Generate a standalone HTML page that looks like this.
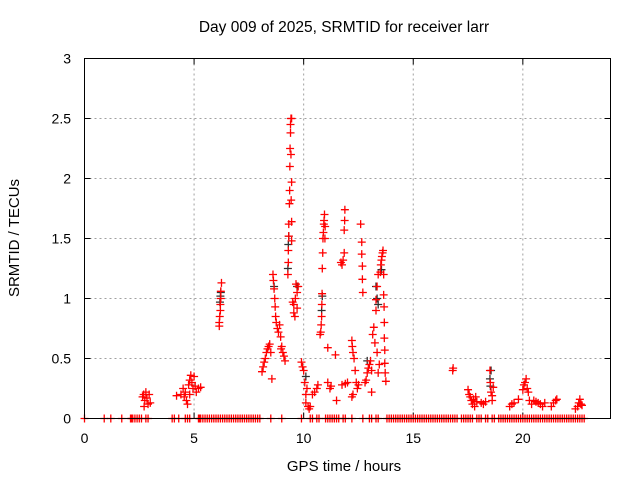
<!DOCTYPE html>
<html><head><meta charset="utf-8"><style>
body{margin:0;background:#fff}
svg{display:block;font-family:"Liberation Sans",sans-serif}
</style></head><body>
<svg id="chart" width="640" height="480" viewBox="0 0 640 480" xmlns="http://www.w3.org/2000/svg">
<rect width="640" height="480" fill="#fff"/>
<text x="344" y="32" font-size="15.5" text-anchor="middle">Day 009 of 2025, SRMTID for receiver larr</text>
<text x="344" y="471" font-size="15" text-anchor="middle">GPS time / hours</text>
<text transform="translate(19,238) rotate(-90)" font-size="15" text-anchor="middle">SRMTID / TECUs</text>
<g id="grid"></g><g id="ticks"></g><g id="marks"></g>
<rect x="84.5" y="58.5" width="526" height="360" fill="none" stroke="#000" stroke-width="1"/>
</svg>
<script>
const xTicks=[0,5,10,15,20];
const yTicks=[0,0.5,1,1.5,2,2.5,3];
const yTickLabels=["0","0.5","1","1.5","2","2.5","3"];
const redTimes=[2.65,2.7,2.75,2.8,2.85,2.9,2.95,3.0,2.72,
4.2,4.4,4.5,4.6,4.65,4.7,4.75,4.8,4.85,4.9,4.95,5.0,5.05,5.1,5.2,5.3,4.55,4.8,
6.15,6.15,6.17,6.2,6.2,6.22,6.22,6.25,
8.1,8.15,8.2,8.25,8.3,8.35,8.4,8.45,8.5,8.55,8.6,8.62,8.65,8.68,8.7,8.72,8.75,8.8,8.85,8.9,8.95,9.0,9.05,9.1,9.15,8.97,
9.28,9.3,9.3,9.32,9.32,9.35,9.36,9.37,9.38,9.4,9.4,9.42,9.45,9.42,9.45,9.43,9.45,9.45,
9.5,9.55,9.55,9.6,9.62,9.65,9.7,9.7,9.75,
9.9,9.95,10.0,10.05,10.1,10.1,10.15,10.2,10.25,10.3,10.4,10.5,10.6,10.65,
10.75,10.78,10.8,10.82,10.83,10.84,10.85,10.87,10.88,10.9,10.92,10.95,10.93,10.97,10.98,
11.1,11.1,11.2,11.25,11.45,11.5,
11.7,11.75,11.8,11.85,11.85,11.87,11.88,11.75,11.9,12.0,
12.2,12.22,12.25,12.3,12.25,12.2,12.35,12.4,12.45,12.5,
12.6,12.65,12.65,12.68,12.68,12.7,
12.8,12.85,12.9,12.95,13.0,13.05,13.1,13.1,13.15,13.2,13.25,13.3,13.3,13.35,13.35,13.4,13.4,13.45,
13.5,13.52,13.55,13.57,13.6,13.62,13.65,13.65,13.67,13.68,13.68,13.7,13.7,13.72,13.75,
16.8,16.82,
17.5,17.55,17.6,17.65,17.7,17.75,17.8,17.85,17.9,18.1,18.2,18.3,
18.5,18.52,18.55,18.6,18.65,18.6,
19.4,19.5,19.6,19.8,
20.0,20.05,20.1,20.15,20.2,20.25,20.3,
20.4,20.5,20.6,20.7,20.8,20.9,21.0,
21.3,21.4,21.5,21.55,
22.4,22.5,22.55,22.6,22.65,22.7];
const redValues=[0.18,0.2,0.15,0.22,0.17,0.12,0.2,0.13,0.1,
0.19,0.2,0.25,0.22,0.15,0.12,0.28,0.32,0.36,0.3,0.25,0.35,0.27,0.22,0.25,0.26,0.18,0.2,
0.77,0.8,0.85,0.9,0.95,1.0,1.06,1.13,
0.39,0.43,0.47,0.5,0.55,0.58,0.6,0.62,0.55,0.33,1.2,1.15,1.08,1.0,0.93,0.85,0.8,0.75,0.72,0.78,0.68,0.6,0.55,0.52,0.48,0.58,
1.2,1.3,1.4,1.52,1.62,1.79,1.9,2.1,2.25,2.38,2.45,2.5,2.5,2.2,1.97,1.82,1.64,1.48,
0.97,0.95,0.88,0.85,1.0,1.12,1.05,0.92,1.1,
0.47,0.43,0.4,0.3,0.2,0.13,0.25,0.1,0.08,0.1,0.2,0.22,0.25,0.28,
0.7,0.72,0.78,0.85,0.95,1.04,1.25,1.38,1.5,1.55,1.62,1.7,1.65,1.5,1.6,
0.59,0.3,0.25,0.27,0.53,0.15,
1.3,1.28,1.32,1.38,1.57,1.65,1.74,0.28,0.29,0.3,
0.65,0.6,0.55,0.5,0.2,0.18,0.4,0.3,0.25,0.28,
1.62,1.47,1.37,1.27,1.16,1.05,
0.3,0.32,0.38,0.42,0.45,0.48,0.4,0.22,0.7,0.76,0.63,0.9,0.99,1.1,0.55,1.2,0.38,0.45,
1.22,1.28,1.32,1.35,1.38,1.4,1.2,1.03,0.93,0.8,0.67,0.57,0.46,0.38,0.31,
0.4,0.42,
0.24,0.2,0.18,0.15,0.12,0.16,0.1,0.18,0.14,0.13,0.12,0.14,
0.4,0.3,0.22,0.15,0.26,0.19,
0.1,0.12,0.13,0.16,
0.24,0.28,0.3,0.33,0.25,0.22,0.15,
0.12,0.15,0.14,0.13,0.12,0.1,0.13,
0.1,0.13,0.15,0.16,
0.08,0.1,0.13,0.16,0.12,0.11];
const blackTimes=[6.18,6.2,6.22,9.28,9.3,9.32,10.85,10.82,13.3,13.35,13.4,13.55,18.5,18.55,18.52,8.65,9.7,10.1,12.9];
const blackValues=[0.97,1.02,1.05,1.25,1.45,1.52,1.02,0.9,1.1,1.0,0.95,1.24,0.33,0.4,0.27,1.1,1.1,0.35,0.48];
const zeroTimes=[0,0.9,1.2,1.7,2.1,2.15,2.2,2.3,2.4,2.5,2.6,2.8,2.9,4.0,4.1,4.3,4.6,4.7,4.8,
5.2,5.25,5.3,5.4,5.5,5.6,5.7,5.8,5.9,6.0,6.1,6.2,6.3,6.4,6.5,6.6,6.7,6.8,6.9,7.0,7.1,7.2,7.3,7.4,7.5,7.6,7.7,7.8,7.9,8.0,
8.5,9.0,9.9,10.3,10.4,10.6,10.7,11.0,11.1,11.2,11.3,11.4,11.5,11.6,11.8,11.9,12.2,12.7,13.0,13.1,13.3,13.4,
13.8,13.9,14.0,14.1,14.2,14.3,14.4,14.5,14.6,14.7,14.8,14.9,15.0,15.1,15.2,15.3,15.4,15.5,15.6,15.7,15.8,15.9,16.0,16.1,16.2,16.3,16.4,16.5,16.6,16.7,16.8,16.9,17.0,
17.2,17.3,17.4,17.5,17.6,17.7,17.9,18.0,18.1,18.3,18.4,18.6,18.7,
18.9,19.0,19.1,19.2,19.3,19.4,19.5,19.6,19.7,19.8,19.9,20.0,20.1,20.2,20.3,20.4,20.5,20.6,20.7,20.8,20.9,21.0,21.1,21.2,21.3,21.4,21.5,21.6,21.7,21.8,21.9,22.0,22.1,22.2,22.3,22.4,22.5,22.6,22.7,22.8];

const NS='http://www.w3.org/2000/svg';
const X0=84.5,X1=610.5,Y0=418.5,Y1=58.5,XMAX=24,YMAX=3;
function sx(v){return X0+(X1-X0)*v/XMAX;}
function sy(v){return Y0-(Y0-Y1)*v/YMAX;}
const grid=document.getElementById('grid'),ticks=document.getElementById('ticks'),marks=document.getElementById('marks');
function mk(tag,attrs,parent){const e=document.createElementNS(NS,tag);for(const k in attrs)e.setAttribute(k,attrs[k]);parent.appendChild(e);return e;}
xTicks.forEach((t,i)=>{
  const x=sx(t);
  if(t>0){const g=mk('line',{x1:x,x2:x,y1:Y1,y2:Y0,stroke:'#a0a0a0','stroke-dasharray':'2,3'},grid);
  
  }
  mk('line',{x1:x,x2:x,y1:Y0,y2:Y0-6,stroke:'#000'},ticks);
  mk('line',{x1:x,x2:x,y1:Y1,y2:Y1+6,stroke:'#000'},ticks);
  const l=mk('text',{x:x,y:443,'font-size':14,'text-anchor':'middle'},ticks);
  l.textContent=String(t);
  
  
});
yTicks.forEach((t,i)=>{
  const y=sy(t);
  if(t>0&&t<YMAX){const g=mk('line',{x1:X0,x2:X1,y1:y,y2:y,stroke:'#a0a0a0','stroke-dasharray':'2,3'},grid);
  
  }
  mk('line',{x1:X0,x2:X0+6,y1:y,y2:y,stroke:'#000'},ticks);
  mk('line',{x1:X1,x2:X1-6,y1:y,y2:y,stroke:'#000'},ticks);
  const l=mk('text',{x:71,y:y+5,'font-size':14,'text-anchor':'end'},ticks);
  l.textContent=yTickLabels[i];
  
  
});
function plus(t,v,color,name){
  const x=sx(t),y=sy(v);
  const p=mk('path',{d:`M${x-4},${y}H${x+4}M${x},${y-4}V${y+4}`,stroke:color,'stroke-width':1.3,fill:'none'},marks);
  
  
}
zeroTimes.forEach(t=>plus(t,0,'#ff0000','zero-point'));
blackTimes.forEach((t,i)=>plus(t,blackValues[i],'#303030','srmtid-point-black'));
redTimes.forEach((t,i)=>plus(t,redValues[i],'#ff0000','srmtid-point'));
</script>
</body></html>
